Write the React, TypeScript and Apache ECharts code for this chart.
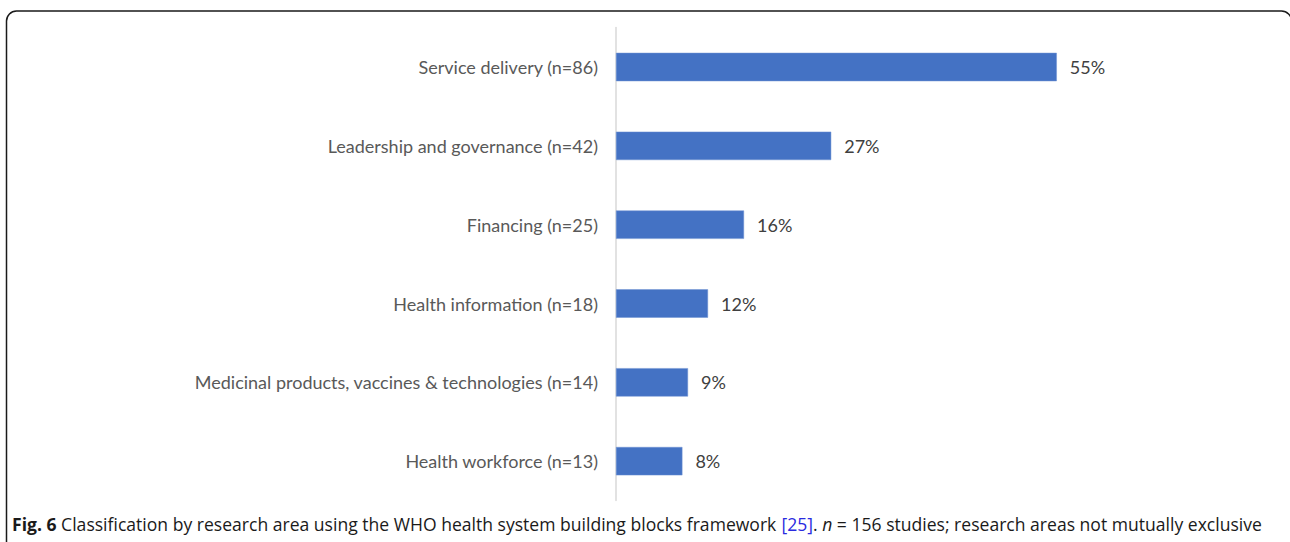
import React, { useEffect, useRef } from "react";
import * as echarts from "echarts";

const categories = [
  "Service delivery (n=86)",
  "Leadership and governance (n=42)",
  "Financing (n=25)",
  "Health information (n=18)",
  "Medicinal products, vaccines & technologies (n=14)",
  "Health workforce (n=13)",
];
const values = [55.1, 26.9, 16.0, 11.5, 9.0, 8.3];
const valueLabels = ["55%", "27%", "16%", "12%", "9%", "8%"];

export default function App() {
  const ref = useRef<HTMLDivElement>(null);
  useEffect(() => {
    if (!ref.current) return;
    const chart = echarts.init(ref.current, null, { renderer: "svg" });
    chart.setOption({
      animation: false,
      backgroundColor: "#ffffff",
      grid: { left: 616, right: 194, top: 27.6, bottom: 41.4, containLabel: false },
      xAxis: {
        type: "value",
        min: 0,
        max: 60,
        show: false,
      },
      yAxis: {
        type: "category",
        data: categories,
        inverse: true,
        axisLine: { show: true, lineStyle: { color: "#d9d9d9", width: 1.5 } },
        axisTick: { show: false },
        axisLabel: {
          color: "#595959",
          fontFamily: "Lato",
          fontSize: 18,
          margin: 18,
        },
      },
      series: [
        {
          type: "bar",
          data: values,
          barCategoryGap: "64%",
          itemStyle: { color: "#4472C4", borderColor: "#6f93d3", borderWidth: 0.5 },
          label: {
            show: true,
            position: "right",
            distance: 13,
            color: "#404040",
            fontFamily: "Lato",
            fontSize: 18,
            formatter: (p: any) => valueLabels[p.dataIndex],
          },
        },
      ],
      graphic: [
        {
          type: "rect",
          shape: { x: 6.5, y: 11, width: 1285, height: 620, r: 10 },
          style: { fill: "none", stroke: "#1a1a1a", lineWidth: 1.5 },
          silent: true,
        },
        {
          type: "text",
          x: 12,
          y: 524,
          scaleX: 0.95,
          style: {
            text: "{b|Fig. 6} Classification by research area using the WHO health system building blocks framework {l|[25]}. {i|n} = 156 studies; research areas not mutually exclusive",
            fontFamily: "Open Sans",
            fontSize: 18.5,
            fill: "#1a1a1a",
            verticalAlign: "middle",
            rich: {
              b: { fontWeight: "bold", fontFamily: "Open Sans", fontSize: 18.5, fill: "#1a1a1a" },
              l: { fill: "#2a2adf", fontFamily: "Open Sans", fontSize: 18.5 },
              i: { fontStyle: "italic", fontFamily: "Open Sans", fontSize: 18.5, fill: "#1a1a1a" },
            },
          },
        },
      ],
    });
    return () => chart.dispose();
  }, []);
  return (
    <div
      ref={ref}
      style={{ position: "fixed", left: 0, top: 0, width: 1290, height: 542 }}
    />
  );
}
